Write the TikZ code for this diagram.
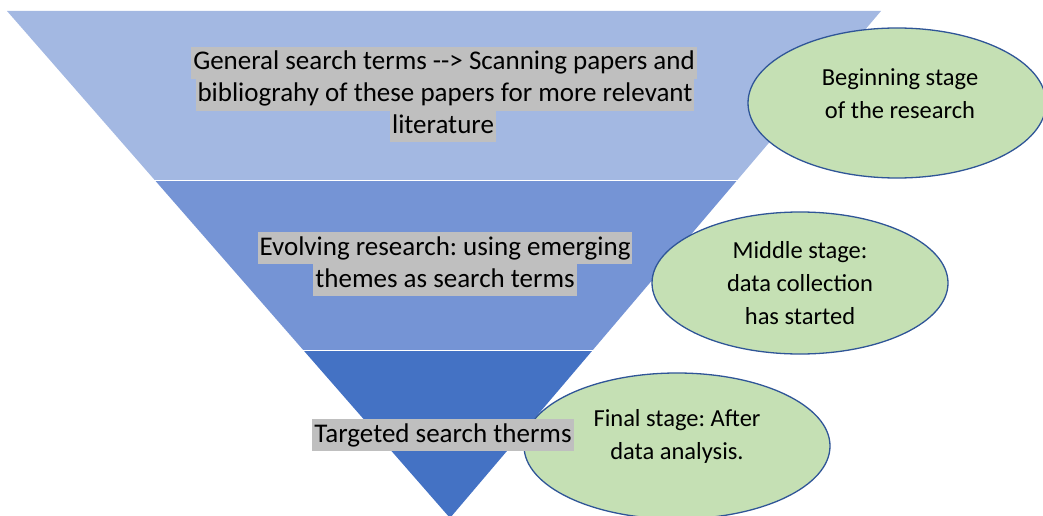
\documentclass[tikz,border=0pt]{standalone}
\usepackage{fontspec}
\setmainfont{Carlito}
\frenchspacing
\usetikzlibrary{shapes.geometric}
\definecolor{bandA}{HTML}{A3B8E2}
\definecolor{bandB}{HTML}{7594D5}
\definecolor{bandC}{HTML}{4472C4}
\definecolor{ellfill}{HTML}{C5E0B4}
\definecolor{elldraw}{HTML}{2F5597}
\definecolor{hlgray}{HTML}{BFBFBF}
\begin{document}
\begin{tikzpicture}[x=1pt,y=-1pt,
  hl/.style={fill=hlgray, inner xsep=2pt, inner ysep=0pt, text height=23pt, text depth=9pt, font=\fontsize{27}{32}\selectfont},
  stage/.style={ellipse, draw=elldraw, line width=1.3pt, fill=ellfill, inner sep=0pt},
  stagetext/.style={align=center, inner sep=0pt, font=\fontsize{24.5}{33}\selectfont}]
\useasboundingbox (0,0) rectangle (1043,516);
\coordinate (tl) at (7,11);
\coordinate (tr) at (881,11);
\coordinate (ap) at (450,518);
\begin{scope}
  \clip (0,0) rectangle (1043,179.5);
  \fill[bandA] (tl) -- (tr) -- (ap) -- cycle;
\end{scope}
\begin{scope}
  \clip (0,181.5) rectangle (1043,349.5);
  \fill[bandB] (tl) -- (tr) -- (ap) -- cycle;
\end{scope}
\begin{scope}
  \clip (0,351.5) rectangle (1043,516);
  \fill[bandC] (tl) -- (tr) -- (ap) -- cycle;
\end{scope}
\node[stage, minimum width=298pt, minimum height=150pt] (e1) at (897,103) {};
\node[stage, minimum width=296pt, minimum height=142pt] (e2) at (800,283) {};
\node[stage, minimum width=306pt, minimum height=146pt] (e3) at (677,446) {};
\node[stagetext] (s1) at (900,94) {Beginning stage\\of the research};
\node[stagetext] (s2) at (800,283) {Middle stage:\\data collection\\has started};
\node[stagetext] (s3) at (677,436) {Final stage: After\\data analysis.};
\node[hl] (g1) at (444,63) {General search terms -{}-> Scanning papers and};
\node[hl] (g2) at (445,95) {bibliograhy of these papers for more relevant};
\node[hl] (g3) at (443,126) {literature};
\node[hl] (m1) at (445,248) {Evolving research: using emerging};
\node[hl] (m2) at (445,280) {themes as search terms};
\node[hl] (t1) at (443,435) {Targeted search therms};
\end{tikzpicture}
\end{document}
